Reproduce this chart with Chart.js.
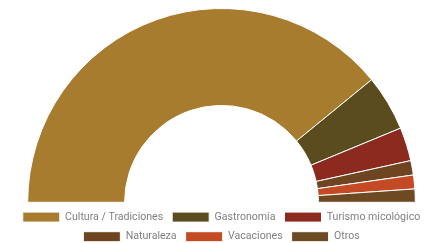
<!DOCTYPE html>
<html>
<head>
<meta charset="utf-8">
<script src="https://cdn.jsdelivr.net/npm/chart.js@4"></script>
<style>
  html, body { margin: 0; padding: 0; background: #fff; overflow: hidden; }
  #wrap { width: 424px; height: 243px; overflow: hidden; }
</style>
</head>
<body>
<div id="wrap"><canvas id="grafico" width="443" height="243"></canvas></div>
<script>
var categorias = ["Cultura / Tradiciones", "Gastronomía", "Turismo micológico", "Naturaleza", "Vacaciones", "Otros"];
var valores = [78.2, 9.3, 5.6, 2.4, 2.3, 2.2];
var colores = ["#A87C2E", "#5A4C1F", "#8C2A1F", "#6E4520", "#C44A26", "#6E4A22"];

var ctx = document.getElementById("grafico").getContext("2d");
var grafico = new Chart(ctx, {
  type: "doughnut",
  data: {
    labels: categorias,
    datasets: [{
      data: valores,
      backgroundColor: colores,
      borderColor: "#ffffff",
      borderWidth: 1
    }]
  },
  options: {
    responsive: false,
    animation: false,
    rotation: -90,
    circumference: 180,
    cutout: "50%",
    layout: { padding: { top: 8, bottom: -9, left: 0, right: 0 } },
    plugins: {
      tooltip: { enabled: false },
      legend: {
        position: "bottom",
        labels: {
          boxWidth: 37,
          boxHeight: 10,
          padding: 9,
          color: "#808080",
          font: { family: "Roboto", size: 10.6 }
        }
      }
    }
  }
});
</script>
</body>
</html>
